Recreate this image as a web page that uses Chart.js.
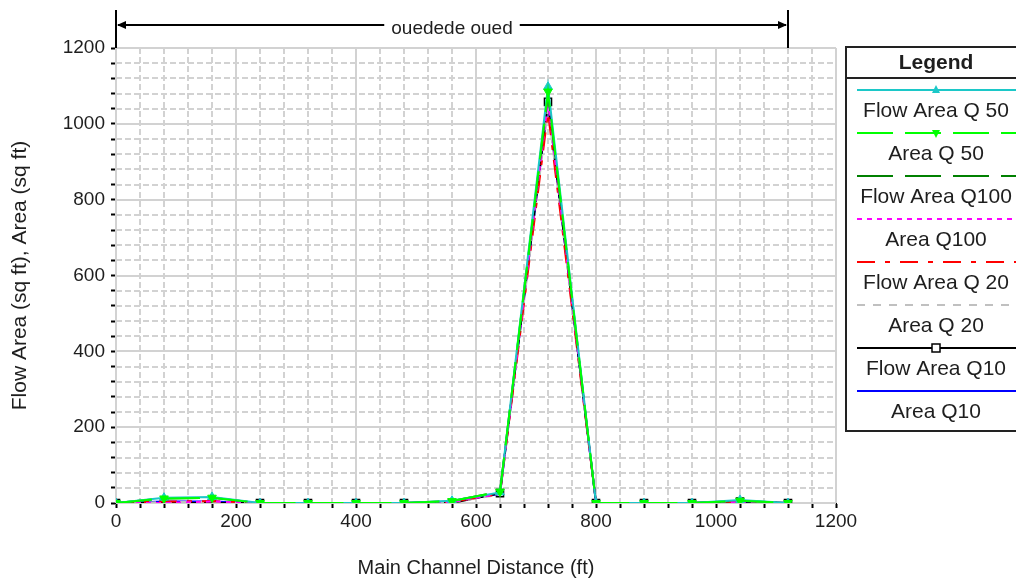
<!DOCTYPE html>
<html>
<head>
<meta charset="utf-8">
<title>Flow Area profile</title>
<script src="https://cdn.jsdelivr.net/npm/chart.js@4.4.1/dist/chart.umd.min.js"></script>
<style>
    html, body { margin: 0; padding: 0; background: #fff; }
    #wrap { width: 1016px; height: 584px; }
</style>
</head>
<body>
<div id="wrap"><canvas id="profileChart" width="1016" height="584"></canvas></div>
<script>
// Stations along the main channel (ft)
const distance = [0, 80, 160, 240, 320, 400, 480, 560, 640, 720, 800, 880, 960, 1040, 1120];

// Areas per profile (sq ft)
const flowAreaQ50  = [0, 14, 16, 0, 0, 0, 0, 6, 28, 1098, 0, 0, 0, 8, 0];
const areaQ50      = [0, 12, 14, 0, 0, 0, 0, 5, 30, 1085, 0, 0, 0, 6, 0];
const flowAreaQ100 = [0, 12, 14, 0, 0, 0, 0, 5, 30, 1080, 0, 0, 0, 6, 0];
const areaQ100     = [0, 0, 4, 0, 0, 0, 0, 3, 24, 1060, 0, 0, 0, 2, 0];
const flowAreaQ20  = [0, 4, 5, 0, 0, 0, 0, 3, 24, 1030, 0, 0, 0, 3, 0];
const areaQ20      = [0, 2, 3, 0, 0, 0, 0, 2, 22, 1040, 0, 0, 0, 2, 0];
const flowAreaQ10  = [0, 0, 0, 0, 0, 0, 0, 0, 26, 1058, 0, 0, 0, 4, 0];
const areaQ10      = [0, 4, 4, 0, 0, 0, 0, 4, 24, 1055, 0, 0, 0, 3, 0];

const seriesNames = ['Flow Area Q 50', 'Area Q 50', 'Flow Area Q100', 'Area Q100',
                     'Flow Area Q 20', 'Area Q 20', 'Flow Area Q10', 'Area Q10'];

// Axis ranges and labelled ticks
const xTicks = [0, 200, 400, 600, 800, 1000, 1200];
const yTicks = [0, 200, 400, 600, 800, 1000, 1200];
const reachLabel = 'ouedede oued';
const reachStart = 0;
const reachEnd = 1120;

const FONT = '"Liberation Sans", Arial, sans-serif';
const TEXT = '#1e1e1e';

const toPoints = (vals) => distance.map((d, i) => ({ x: d, y: vals[i] }));

const styles = [
    { color: '#1cc8c8', dash: [], point: 'triangle', rot: 0, order: 1 },
    { color: '#00ff00', dash: [36, 12], point: 'triangle', rot: 180, order: 0 },
    { color: '#008000', dash: [36, 12], point: false, order: 2 },
    { color: '#ff00ff', dash: [5, 5], point: false, order: 3 },
    { color: '#ff0000', dash: [18, 10, 5, 10], point: false, order: 4 },
    { color: '#c0c0c0', dash: [8, 8], point: false, order: 5 },
    { color: '#000000', dash: [], point: 'rect', rot: 0, order: 6 },
    { color: '#0000ff', dash: [], point: false, order: 7 }
];
const allValues = [flowAreaQ50, areaQ50, flowAreaQ100, areaQ100, flowAreaQ20, areaQ20, flowAreaQ10, areaQ10];

const datasets = allValues.map((vals, i) => {
    const s = styles[i];
    return {
        label: seriesNames[i],
        data: toPoints(vals),
        borderColor: s.color,
        borderWidth: 2,
        borderDash: s.dash,
        order: s.order,
        pointStyle: s.point || 'circle',
        pointRotation: s.rot || 0,
        pointRadius: s.point ? 5 : 0,
        pointBackgroundColor: s.point === 'rect' ? 'rgba(255,255,255,0)' : s.color,
        pointBorderColor: s.color,
        pointBorderWidth: s.point === 'rect' ? 1.5 : 1,
        tension: 0
    };
});

// light grid: solid at labelled values, dashed between
const gridPlugin = {
    id: 'grid',
    beforeDatasetsDraw(chart) {
        const { ctx, chartArea: a, scales: { x, y } } = chart;
        ctx.save();
        ctx.strokeStyle = '#d2d2d2';
        ctx.lineWidth = 2;
        for (let v = 0; v <= 1200; v += 40) {
            const major = v % 200 === 0;
            ctx.setLineDash(major ? [] : [6, 3]);
            const px = Math.round(x.getPixelForValue(v));
            ctx.beginPath();
            ctx.moveTo(px, a.top);
            ctx.lineTo(px, a.bottom);
            ctx.stroke();
            const py = Math.round(y.getPixelForValue(v));
            ctx.beginPath();
            ctx.moveTo(a.left, py);
            ctx.lineTo(a.right, py);
            ctx.stroke();
        }
        ctx.restore();
    }
};

// reach arrow above the plot and the boxed legend on the right
const overlayPlugin = {
    id: 'overlay',
    afterDraw(chart) {
        const { ctx, chartArea: a, scales: { x } } = chart;
        const x0 = Math.round(x.getPixelForValue(reachStart));
        const x1 = Math.round(x.getPixelForValue(reachEnd));
        const ay = 25;
        ctx.save();
        ctx.strokeStyle = '#000';
        ctx.fillStyle = '#000';
        ctx.lineWidth = 2;
        ctx.beginPath();
        ctx.moveTo(x0, 10); ctx.lineTo(x0, a.top);
        ctx.moveTo(x1, 10); ctx.lineTo(x1, a.top);
        ctx.stroke();

        ctx.font = '19px ' + FONT;
        ctx.textAlign = 'center';
        ctx.textBaseline = 'middle';
        const mid = (x0 + x1) / 2;
        const half = ctx.measureText(reachLabel).width / 2 + 7;
        ctx.beginPath();
        ctx.moveTo(x0 + 2, ay); ctx.lineTo(mid - half, ay);
        ctx.moveTo(mid + half, ay); ctx.lineTo(x1 - 2, ay);
        ctx.stroke();
        ctx.beginPath();
        ctx.moveTo(x0 + 1, ay); ctx.lineTo(x0 + 10, ay - 4); ctx.lineTo(x0 + 10, ay + 4); ctx.closePath();
        ctx.moveTo(x1 - 1, ay); ctx.lineTo(x1 - 10, ay - 4); ctx.lineTo(x1 - 10, ay + 4); ctx.closePath();
        ctx.fill();
        ctx.fillStyle = TEXT;
        ctx.fillText(reachLabel, mid, ay + 4);

        // legend box
        const lx = 846, ly = 47, lw = 200, lh = 384;
        const cx = 936;
        ctx.fillStyle = '#fff';
        ctx.fillRect(lx, ly, lw, lh);
        ctx.strokeStyle = '#222';
        ctx.lineWidth = 2;
        ctx.strokeRect(lx, ly, lw, lh);
        ctx.beginPath();
        ctx.moveTo(lx, 78); ctx.lineTo(lx + lw, 78);
        ctx.stroke();
        ctx.fillStyle = TEXT;
        ctx.font = 'bold 21px ' + FONT;
        ctx.fillText('Legend', cx, 63);

        ctx.font = '21px ' + FONT;
        chart.data.datasets.forEach((ds, i) => {
            const s = styles[i];
            const yl = 90 + i * 43;
            ctx.strokeStyle = s.color;
            ctx.lineWidth = 2;
            ctx.setLineDash(s.dash);
            ctx.beginPath();
            ctx.moveTo(857, yl); ctx.lineTo(1016, yl);
            ctx.stroke();
            ctx.setLineDash([]);
            if (s.point === 'triangle') {
                const d = s.rot ? -1 : 1;
                ctx.fillStyle = s.color;
                ctx.beginPath();
                ctx.moveTo(cx, yl - 5 * d);
                ctx.lineTo(cx - 4, yl + 3 * d);
                ctx.lineTo(cx + 4, yl + 3 * d);
                ctx.closePath();
                ctx.fill();
            } else if (s.point === 'rect') {
                ctx.fillStyle = '#fff';
                ctx.fillRect(cx - 4, yl - 4, 8, 8);
                ctx.lineWidth = 1.5;
                ctx.strokeRect(cx - 4, yl - 4, 8, 8);
            }
            ctx.fillStyle = TEXT;
            ctx.fillText(ds.label, cx, yl + 21);
        });
        ctx.restore();
    }
};

const ctx = document.getElementById('profileChart').getContext('2d');
const chart = new Chart(ctx, {
    type: 'line',
    data: { datasets: datasets },
    options: {
        responsive: false,
        animation: false,
        layout: { padding: { top: 48, right: 180, left: 0, bottom: 0 } },
        plugins: { legend: { display: false }, tooltip: { enabled: false } },
        scales: {
            x: {
                type: 'linear',
                min: 0,
                max: 1200,
                afterFit: (scale) => { scale.height = 81; },
                afterBuildTicks: (scale) => {
                    const t = [];
                    for (let v = 0; v <= 1200; v += 40) t.push({ value: v });
                    scale.ticks = t;
                },
                ticks: {
                    autoSkip: false,
                    maxRotation: 0,
                    padding: 2,
                    color: TEXT,
                    font: { family: FONT, size: 19 },
                    callback: (v) => xTicks.includes(v) ? String(v) : ''
                },
                grid: { drawOnChartArea: false, tickLength: 5, tickColor: '#000', tickWidth: 2 },
                border: { color: '#000', width: 2 },
                title: {
                    display: true,
                    text: 'Main Channel Distance (ft)',
                    color: TEXT,
                    font: { family: FONT, size: 20 },
                    padding: { top: 0, bottom: 4 }
                }
            },
            y: {
                min: 0,
                max: 1200,
                afterFit: (scale) => { scale.width = 116; },
                afterBuildTicks: (scale) => {
                    const t = [];
                    for (let v = 0; v <= 1200; v += 40) t.push({ value: v });
                    scale.ticks = t;
                },
                ticks: {
                    autoSkip: false,
                    padding: 6,
                    color: TEXT,
                    font: { family: FONT, size: 19 },
                    callback: (v) => yTicks.includes(v) ? String(v) : ''
                },
                grid: { drawOnChartArea: false, tickLength: 5, tickColor: '#000', tickWidth: 2 },
                border: { color: '#000', width: 2 },
                title: {
                    display: true,
                    text: 'Flow Area (sq ft), Area (sq ft)',
                    color: TEXT,
                    font: { family: FONT, size: 21 },
                    padding: { top: 8, bottom: 0 }
                }
            }
        }
    },
    plugins: [gridPlugin, overlayPlugin]
});
</script>
</body>
</html>
